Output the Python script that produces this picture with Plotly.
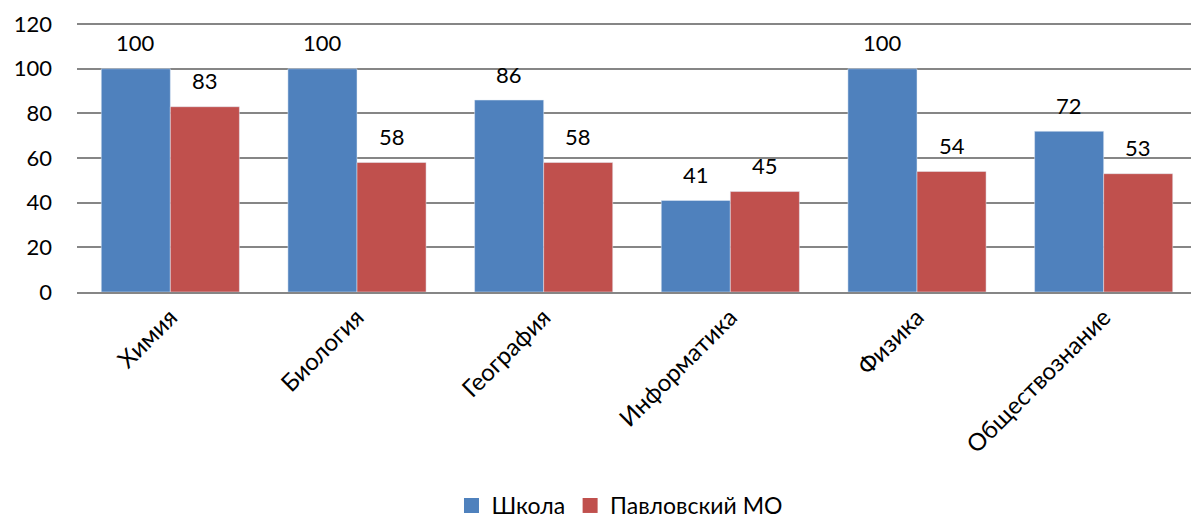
import plotly.graph_objects as go

categories = ["Химия", "Биология", "География", "Информатика", "Физика", "Обществознание"]
school = [100, 100, 86, 41, 100, 72]
pavlovsky = [83, 58, 58, 45, 54, 53]
series_names = ["Школа", "Павловский МО"]
colors = ["#4F81BD", "#C0504D"]
y_ticks = [0, 20, 40, 60, 80, 100, 120]

FONT = "Lato, 'Open Sans', sans-serif"

fig = go.Figure()
for vals, name, col in zip([school, pavlovsky], series_names, colors):
    fig.add_trace(go.Bar(x=categories, y=vals, name=name, marker_color=col, showlegend=False))
for name, col in zip(series_names, colors):
    fig.add_trace(go.Scatter(x=[None], y=[None], mode="markers", name=name,
                             marker=dict(symbol="square", size=15, color=col)))

# data labels above each bar
for vals, dx in zip([school, pavlovsky], [-34.5, 34.5]):
    for c, v in zip(categories, vals):
        fig.add_annotation(x=c, y=v, text=str(v), showarrow=False, xshift=dx, yshift=26,
                           yanchor="middle", font=dict(size=22, color="#000000", family=FONT))

fig.update_layout(
    width=1199, height=519,
    margin=dict(l=69, r=10, t=15, b=235),
    barmode="group", bargap=0.26, bargroupgap=0,
    plot_bgcolor="white", paper_bgcolor="white",
    font=dict(family=FONT, size=22, color="#000000"),
    showlegend=True,
    legend=dict(orientation="h", xref="container", yref="container", x=0.51, y=0.0,
                xanchor="center", yanchor="bottom", font=dict(size=23, family=FONT),
                itemwidth=30, traceorder="normal"),
)
fig.update_yaxes(range=[0, 120.5], tickvals=y_ticks, showgrid=True, gridcolor="#868686", gridwidth=1.5,
                 zeroline=False, showline=False, ticks="", tickfont=dict(size=22), ticklabelstandoff=24,
                 automargin=False)
fig.update_xaxes(showline=True, linecolor="#868686", linewidth=1.5, tickangle=-45, ticks="",
                 tickfont=dict(size=24), automargin=False)

fig.write_html("out.html")
